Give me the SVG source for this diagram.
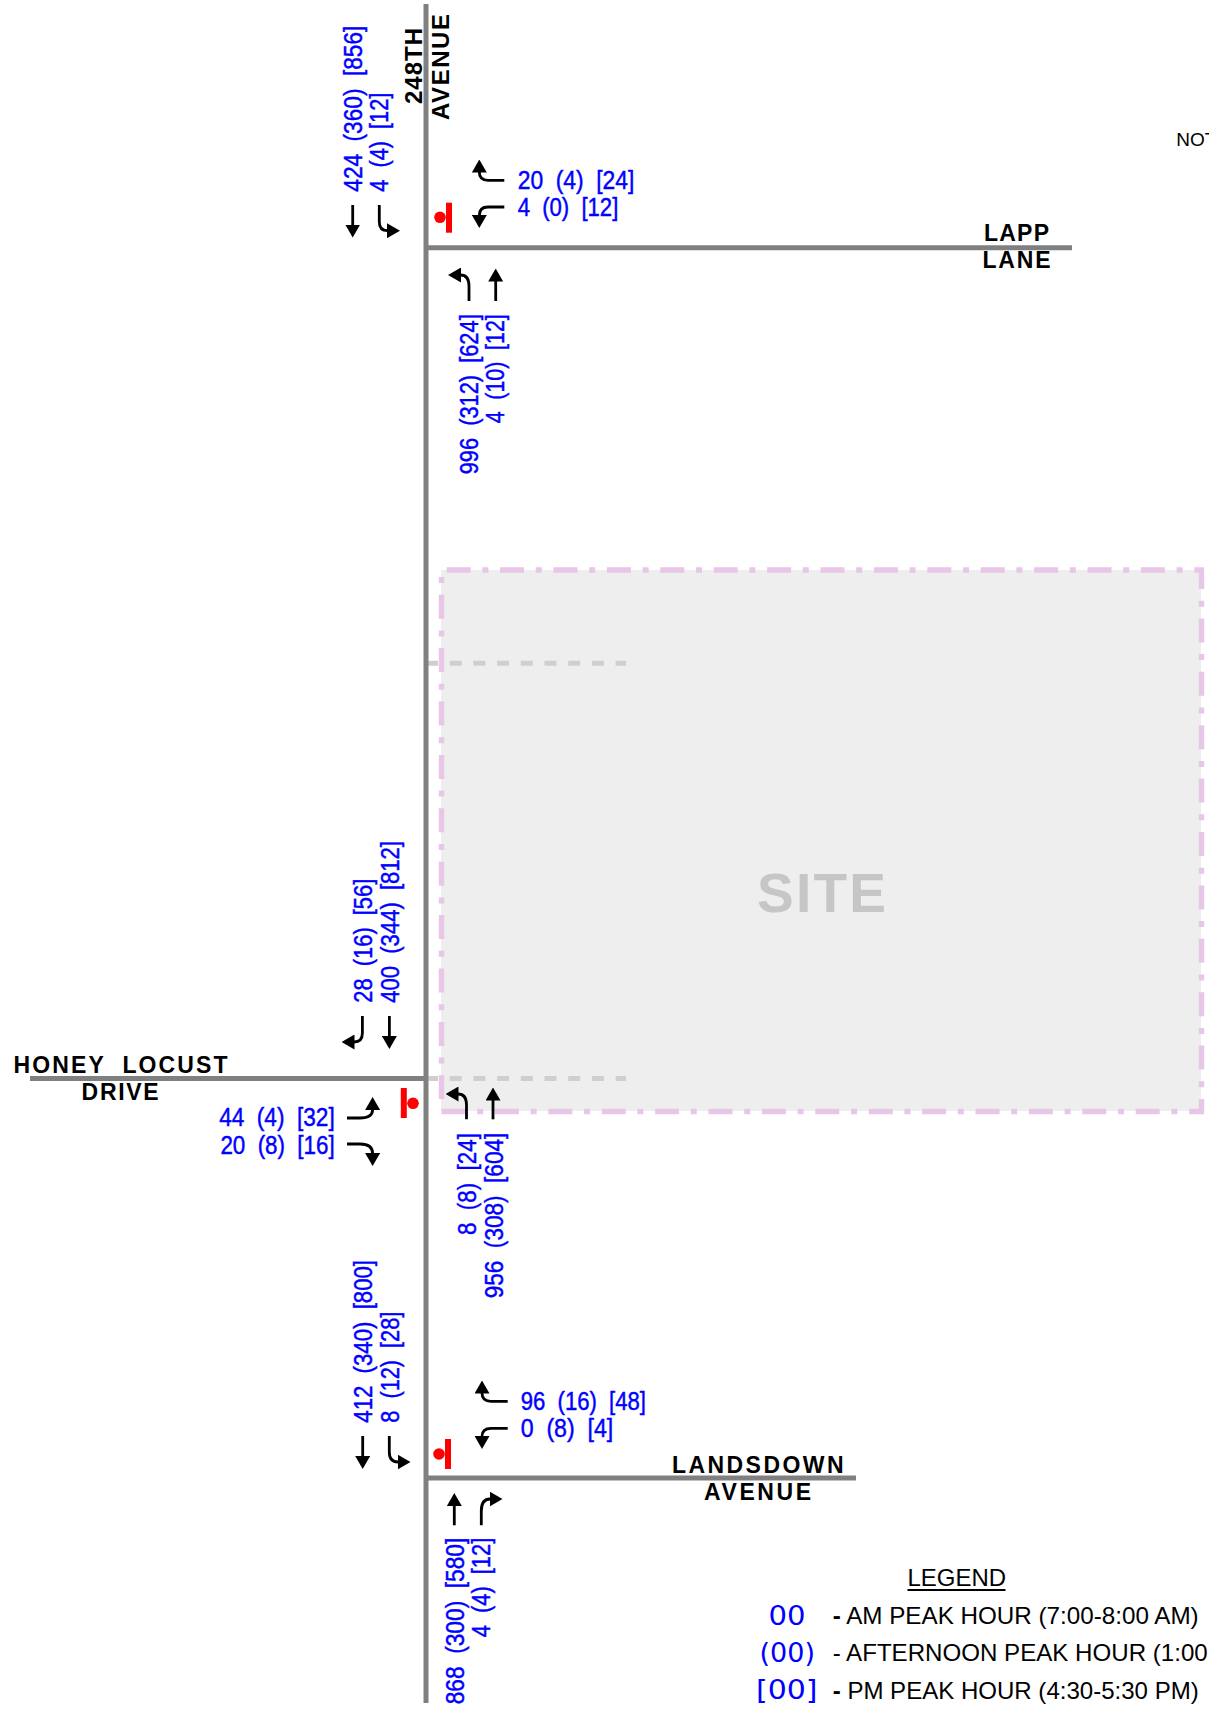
<svg xmlns="http://www.w3.org/2000/svg" width="1209" height="1712" viewBox="0 0 1209 1712">
<style>
.v{font-family:"Liberation Sans Narrow","Liberation Sans",sans-serif;font-size:25.5px;fill:#0000ff;stroke:#0000ff;stroke-width:.45;word-spacing:7px}
.lg{font-family:"DejaVu Sans",sans-serif;font-size:27px;fill:#0000ff}
.r{font-family:"Liberation Sans",Arial,sans-serif;font-weight:bold;font-size:23px;fill:#000}
.t{font-family:"Liberation Sans",Arial,sans-serif;font-size:24px;fill:#000}
.a{fill:none;stroke:#000;stroke-width:2.8;marker-end:url(#ah)}
.road{stroke:#808080;stroke-width:5;fill:none}
.pk{stroke:#e8c6e8;stroke-width:5.4;fill:none;stroke-dasharray:24 11.7 6 11.7}
.gd{stroke:#cfcfcf;stroke-width:5;fill:none;stroke-dasharray:12 11.7}
.bar{fill:#ff0000}
</style>
<defs>
<marker id="ah" viewBox="0 0 13 15" refX="0.5" refY="7.5" markerWidth="13" markerHeight="15" markerUnits="userSpaceOnUse" orient="auto"><path d="M0 0L13 7.5L0 15Z" fill="#000"/></marker>
</defs>
<rect width="1209" height="1712" fill="#fff"/>
<g id="site">
<rect x="441" y="570" width="760" height="541" fill="#eeeeee"/>
<path class="gd" d="M426 663.3H626"/>
<path class="gd" d="M426 1078.5H626"/>
<path class="pk" d="M446.7 570H1204"/>
<path class="pk" d="M441.5 577V1099" style="stroke-dasharray:6 11.7 24 11.7"/>
<path class="pk" d="M441.5 1111.5H1204"/>
<path class="pk" d="M1201.5 570V1111" style="stroke-dashoffset:5"/>
<text x="757" y="911.7" textLength="129" lengthAdjust="spacing" style="font-family:'Liberation Sans',Arial,sans-serif;font-weight:bold;font-size:55px;fill:#c6c6c6">SITE</text>
</g>
<g id="roads">
<path class="road" d="M426 4V1703"/>
<path class="road" d="M426 247.7H1072"/>
<path class="road" d="M30 1078.5H426"/>
<path class="road" d="M426 1478H856"/>
</g>
<g id="road-labels">
<text class="r" transform="translate(421.7 104) rotate(-90)" textLength="76" lengthAdjust="spacing" style="font-size:24px">248TH</text>
<text class="r" transform="translate(449 120) rotate(-90)" textLength="106" lengthAdjust="spacing" style="font-size:24px">AVENUE</text>
<text class="r" x="984" y="240.7" textLength="65" lengthAdjust="spacing">LAPP</text>
<text class="r" x="982.5" y="267.5" textLength="68" lengthAdjust="spacing">LANE</text>
<text class="r" x="13.5" y="1073" textLength="214" lengthAdjust="spacing" xml:space="preserve">HONEY  LOCUST</text>
<text class="r" x="81.6" y="1100" textLength="77" lengthAdjust="spacing">DRIVE</text>
<text class="r" x="672" y="1473.3" textLength="171.5" lengthAdjust="spacing">LANDSDOWN</text>
<text class="r" x="704" y="1500.3" textLength="107" lengthAdjust="spacing">AVENUE</text>
</g>
<g id="connectors">
<path class="a" d="M352.7 205V225"/>
<path class="a" d="M379.3 205V222Q379.3 230.7 387.5 230.7"/>
<path class="a" d="M504.3 180.3H488Q479.3 180.3 479.3 172"/>
<path class="a" d="M504.3 207H488Q479.3 207 479.3 215.5"/>
<path class="a" d="M469 301V286Q469 275 460.5 275"/>
<path class="a" d="M495.7 301V281"/>
<path class="a" d="M362.4 1016V1033Q362.4 1042 354 1042"/>
<path class="a" d="M389.4 1016V1036.5"/>
<path class="a" d="M347 1118H360Q372.6 1118 372.6 1109.5"/>
<path class="a" d="M347 1144H360Q372.6 1144 372.6 1153.5"/>
<path class="a" d="M466.5 1119.3V1105Q466.5 1094 458 1094"/>
<path class="a" d="M493 1119.3V1100"/>
<path class="a" d="M362.7 1436V1456.5"/>
<path class="a" d="M389.3 1436V1452Q389.3 1462 398 1462"/>
<path class="a" d="M507.7 1401.3H491Q482 1401.3 482 1393"/>
<path class="a" d="M507.7 1428.3H491Q482 1428.3 482 1436.5"/>
<path class="a" d="M454.3 1525.3V1505.5"/>
<path class="a" d="M481.3 1525.3V1511Q481.3 1499 490 1499"/>
</g>
<g id="stop-lapp"><rect class="bar" x="446" y="202.7" width="6" height="30"/><circle class="bar" cx="440" cy="217.3" r="5.8"/></g>
<g id="stop-honey"><rect class="bar" x="400.8" y="1088" width="6" height="30"/><circle class="bar" cx="413" cy="1103.3" r="5.8"/></g>
<g id="stop-landsdown"><rect class="bar" x="445" y="1439" width="6" height="30"/><circle class="bar" cx="439" cy="1454" r="5.8"/></g>
<g id="volumes-lapp">
<text class="v" transform="translate(361.7 191.7) rotate(-90)" textLength="166" lengthAdjust="spacingAndGlyphs">424 (360) [856]</text>
<text class="v" transform="translate(388 191.7) rotate(-90)" textLength="99" lengthAdjust="spacingAndGlyphs">4 (4) [12]</text>
<text class="v" transform="translate(478.3 474.3) rotate(-90)" textLength="160" lengthAdjust="spacingAndGlyphs">996 (312) [624]</text>
<text class="v" transform="translate(504.3 423.3) rotate(-90)" textLength="109" lengthAdjust="spacingAndGlyphs">4 (10) [12]</text>
<text class="v" x="517.7" y="189" textLength="116.6" lengthAdjust="spacingAndGlyphs">20 (4) [24]</text>
<text class="v" x="517.7" y="215.7" textLength="100.6" lengthAdjust="spacingAndGlyphs">4 (0) [12]</text>
</g>
<g id="volumes-honey">
<text class="v" transform="translate(372.2 1002.7) rotate(-90)" textLength="124" lengthAdjust="spacingAndGlyphs">28 (16) [56]</text>
<text class="v" transform="translate(399.2 1002.7) rotate(-90)" textLength="161.7" lengthAdjust="spacingAndGlyphs">400 (344) [812]</text>
<text class="v" x="219.2" y="1126" textLength="115.5" lengthAdjust="spacingAndGlyphs">44 (4) [32]</text>
<text class="v" x="220.4" y="1153.7" textLength="114.3" lengthAdjust="spacingAndGlyphs">20 (8) [16]</text>
<text class="v" transform="translate(475.5 1235) rotate(-90)" textLength="102" lengthAdjust="spacingAndGlyphs">8 (8) [24]</text>
<text class="v" transform="translate(502.9 1298.3) rotate(-90)" textLength="165.6" lengthAdjust="spacingAndGlyphs">956 (308) [604]</text>
</g>
<g id="volumes-landsdown">
<text class="v" transform="translate(372.3 1422.7) rotate(-90)" textLength="162.7" lengthAdjust="spacingAndGlyphs">412 (340) [800]</text>
<text class="v" transform="translate(399.3 1422.7) rotate(-90)" textLength="111" lengthAdjust="spacingAndGlyphs">8 (12) [28]</text>
<text class="v" x="520.7" y="1410.3" textLength="125.3" lengthAdjust="spacingAndGlyphs">96 (16) [48]</text>
<text class="v" x="520.7" y="1437" textLength="92.6" lengthAdjust="spacingAndGlyphs">0 (8) [4]</text>
<text class="v" transform="translate(464 1704.3) rotate(-90)" textLength="166.6" lengthAdjust="spacingAndGlyphs">868 (300) [580]</text>
<text class="v" transform="translate(490 1637.3) rotate(-90)" textLength="99.6" lengthAdjust="spacingAndGlyphs">4 (4) [12]</text>
</g>
<g id="legend">
<text class="t" x="907.5" y="1586" textLength="98.5" lengthAdjust="spacingAndGlyphs">LEGEND</text>
<path d="M907.5 1590H1005.5" stroke="#000" stroke-width="2" fill="none"/>
<text class="lg" x="768.5" y="1625" textLength="37" lengthAdjust="spacingAndGlyphs">00</text>
<text class="lg" x="759.5" y="1661.7" textLength="55.5" lengthAdjust="spacingAndGlyphs">(00)</text>
<text class="lg" x="756" y="1699.3" textLength="61.5" lengthAdjust="spacingAndGlyphs">[00]</text>
<text class="t" x="832.7" y="1624" textLength="366" lengthAdjust="spacingAndGlyphs"><tspan font-weight="bold">-</tspan> AM PEAK HOUR (7:00-8:00 AM)</text>
<text class="t" x="832.7" y="1661" textLength="375" lengthAdjust="spacingAndGlyphs">- AFTERNOON PEAK HOUR (1:00</text>
<text class="t" x="832.7" y="1698.7" textLength="366" lengthAdjust="spacingAndGlyphs"><tspan font-weight="bold">-</tspan> PM PEAK HOUR (4:30-5:30 PM)</text>
<text x="1176.3" y="146" style="font-family:'Liberation Sans',Arial,sans-serif;font-size:19px;fill:#000">NOT</text>
</g>
</svg>
